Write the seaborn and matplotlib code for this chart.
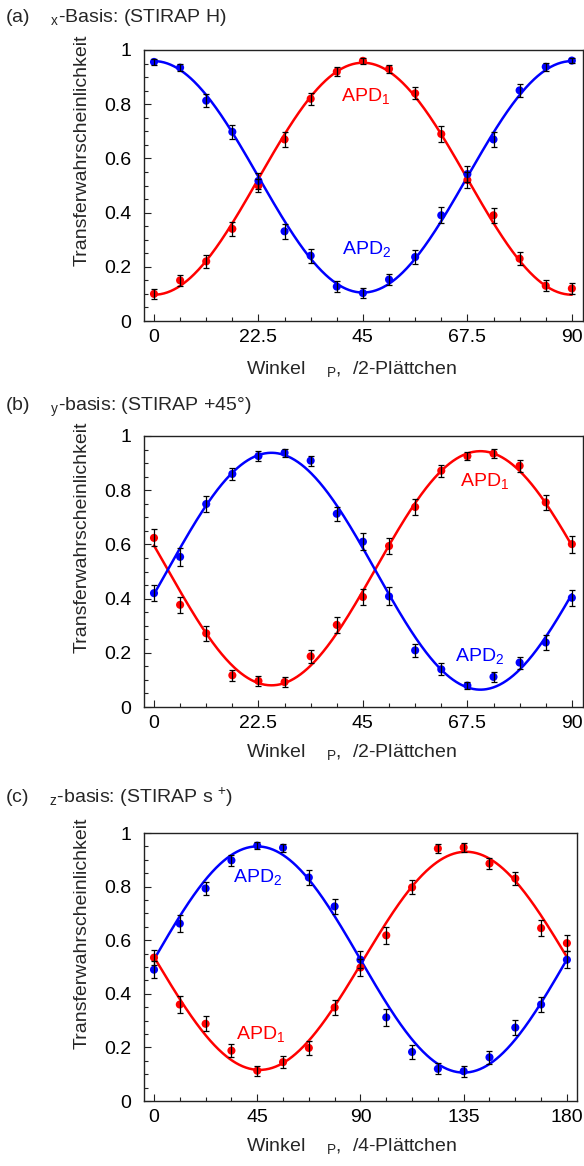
import numpy as np
import pandas as pd
import matplotlib
matplotlib.use("Agg")
import matplotlib.pyplot as plt
from matplotlib.ticker import MultipleLocator
import seaborn as sns

# ---- measured transfer probabilities -------------------------------------
ANGLE_HALF = [0, 5.625, 11.25, 16.875, 22.5, 28.125, 33.75, 39.375, 45,
              50.625, 56.25, 61.875, 67.5, 73.125, 78.75, 84.375, 90]
ANGLE_QUARTER = [0, 11.25, 22.5, 33.75, 45, 56.25, 67.5, 78.75, 90,
                 101.25, 112.5, 123.75, 135, 146.25, 157.5, 168.75, 180]

# (a) x-basis
A_APD1 = [0.10, 0.15, 0.22, 0.34, 0.50, 0.67, 0.82, 0.92, 0.96,
          0.93, 0.84, 0.69, 0.52, 0.39, 0.23, 0.13, 0.12]
A_APD1_ERR = [0.018, 0.020, 0.024, 0.026, 0.023, 0.027, 0.022, 0.017, 0.011,
              0.015, 0.022, 0.028, 0.030, 0.028, 0.025, 0.020, 0.020]
A_APD2 = [0.956, 0.935, 0.813, 0.698, 0.517, 0.331, 0.241, 0.127, 0.103,
          0.153, 0.236, 0.390, 0.542, 0.670, 0.851, 0.938, 0.961]
A_APD2_ERR = [0.011, 0.014, 0.024, 0.026, 0.030, 0.028, 0.026, 0.021, 0.018,
              0.022, 0.026, 0.030, 0.029, 0.029, 0.023, 0.014, 0.010]

# (b) y-basis
B_APD1 = [0.624, 0.377, 0.272, 0.117, 0.096, 0.092, 0.187, 0.303, 0.406,
          0.594, 0.738, 0.872, 0.926, 0.935, 0.890, 0.755, 0.601]
B_APD1_ERR = [0.031, 0.029, 0.027, 0.021, 0.019, 0.018, 0.025, 0.030, 0.028,
              0.031, 0.030, 0.022, 0.015, 0.017, 0.022, 0.029, 0.031]
B_APD2 = [0.420, 0.554, 0.749, 0.860, 0.926, 0.938, 0.909, 0.713, 0.610,
          0.408, 0.209, 0.139, 0.079, 0.111, 0.164, 0.238, 0.403]
B_APD2_ERR = [0.030, 0.032, 0.028, 0.022, 0.017, 0.015, 0.019, 0.026, 0.031,
              0.033, 0.025, 0.022, 0.014, 0.019, 0.022, 0.026, 0.030]

# (c) z-basis
C_APD1 = [0.535, 0.360, 0.288, 0.188, 0.113, 0.145, 0.198, 0.349, 0.498,
          0.618, 0.797, 0.942, 0.946, 0.886, 0.830, 0.645, 0.589]
C_APD1_ERR = [0.028, 0.030, 0.028, 0.023, 0.018, 0.023, 0.026, 0.029, 0.030,
              0.031, 0.026, 0.016, 0.016, 0.022, 0.024, 0.030, 0.031]
C_APD2 = [0.490, 0.662, 0.793, 0.898, 0.953, 0.945, 0.834, 0.726, 0.527,
          0.312, 0.183, 0.120, 0.111, 0.163, 0.274, 0.360, 0.527]
C_APD2_ERR = [0.031, 0.031, 0.026, 0.020, 0.013, 0.015, 0.027, 0.029, 0.031,
              0.031, 0.026, 0.021, 0.021, 0.025, 0.027, 0.028, 0.031]

# sinusoidal fits: (offset, amplitude, angle of maximum in degrees)
A_FIT1 = (0.525, 0.428, 45.0)
A_FIT2 = (0.532, 0.427, 0.0)
B_FIT1 = (0.512, 0.432, 70.3)
B_FIT2 = (0.501, 0.437, 25.3)
C_FIT1 = (0.523, 0.407, 136.0)
C_FIT2 = (0.528, 0.422, 45.0)

Y_TICKS = [0, 0.2, 0.4, 0.6, 0.8, 1]
Y_TICK_LABELS = ["0", "0.2", "0.4", "0.6", "0.8", "1"]
X_TICKS_HALF = [0, 22.5, 45, 67.5, 90]
X_TICK_LABELS_HALF = ["0", "22.5", "45", "67.5", "90"]
X_TICKS_QUARTER = [0, 45, 90, 135, 180]
X_TICK_LABELS_QUARTER = ["0", "45", "90", "135", "180"]

RED = "#ff0000"
BLUE = "#0000ff"

sns.set_theme(style="ticks")
plt.rcParams["font.family"] = ["Liberation Sans", "DejaVu Sans"]
plt.rcParams["mathtext.fontset"] = "custom"
plt.rcParams["mathtext.rm"] = "Liberation Sans"
plt.rcParams["mathtext.it"] = "Liberation Sans"
plt.rcParams["mathtext.default"] = "regular"

W, H = 584, 1166
fig = plt.figure(figsize=(W / 100, H / 100), dpi=100)


def box(left, top, right, bottom):
    return [left / W, 1 - bottom / H, (right - left) / W, (bottom - top) / H]


def fit_curve(params, period, x_max):
    off, amp, xmax = params
    x = np.linspace(0, x_max, 500)
    y = off + amp * np.cos(2 * np.pi * (x - xmax) / period)
    return pd.DataFrame({"x": x, "y": y})


def panel(rect, xs, d1, e1, d2, e2, f1, f2, period, x_max, xlim,
          xticks, xticklabels, xminor, lab1, lab2):
    ax = fig.add_axes(rect)
    for params, col in ((f1, RED), (f2, BLUE)):
        sns.lineplot(data=fit_curve(params, period, x_max), x="x", y="y",
                     ax=ax, color=col, lw=1.8, zorder=2, legend=False)
    for d, e, col in ((d1, e1, RED), (d2, e2, BLUE)):
        df = pd.DataFrame({"x": xs, "y": d})
        sns.scatterplot(data=df, x="x", y="y", ax=ax, color=col, s=34,
                        edgecolor="none", zorder=3, legend=False)
        ax.errorbar(xs, d, yerr=e, fmt="none", ecolor="black", elinewidth=0.9,
                    capsize=2.5, capthick=0.9, zorder=4)
    ax.set_xlim(*xlim)
    ax.set_ylim(0, 1)
    ax.set_xticks(xticks)
    ax.set_xticklabels(xticklabels)
    ax.set_yticks(Y_TICKS)
    ax.set_yticklabels(Y_TICK_LABELS)
    ax.xaxis.set_minor_locator(MultipleLocator(xminor))
    ax.yaxis.set_minor_locator(MultipleLocator(0.05))
    ax.tick_params(axis="both", which="both", direction="in", top=False,
                   right=False, colors="#222222", labelcolor="black",
                   labelsize=14)
    ax.tick_params(axis="both", which="major", length=5, width=0.8)
    ax.tick_params(axis="both", which="minor", length=3, width=0.8)
    ax.tick_params(axis="x", pad=6)
    ax.tick_params(axis="y", pad=9)
    for sp in ax.spines.values():
        sp.set_visible(True)
        sp.set_color("#222222")
        sp.set_linewidth(1.0)
    ax.set_xlabel("")
    ax.set_ylabel("")
    for (tx, ty, txt, col) in (lab1 + (RED,), lab2 + (BLUE,)):
        ax.text(tx, ty, txt, color=col, fontsize=14, ha="center", va="center")
    return ax


panel(box(144, 50, 583, 321), ANGLE_HALF, A_APD1, A_APD1_ERR, A_APD2, A_APD2_ERR,
      A_FIT1, A_FIT2, 90, 90, (-2.15, 92.4), X_TICKS_HALF, X_TICK_LABELS_HALF,
      5.625, (45.5, 0.83, "APD$_1$"), (45.8, 0.265, "APD$_2$"))
panel(box(144, 436, 583, 707), ANGLE_HALF, B_APD1, B_APD1_ERR, B_APD2, B_APD2_ERR,
      B_FIT1, B_FIT2, 90, 90, (-2.15, 92.4), X_TICKS_HALF, X_TICK_LABELS_HALF,
      5.625, (71.3, 0.835, "APD$_1$"), (70.2, 0.19, "APD$_2$"))
panel(box(144, 833, 577, 1101), ANGLE_QUARTER, C_APD1, C_APD1_ERR, C_APD2, C_APD2_ERR,
      C_FIT1, C_FIT2, 180, 180, (-4.36, 184.4), X_TICKS_QUARTER,
      X_TICK_LABELS_QUARTER, 11.25,
      (46.5, 0.25, "APD$_1$"), (45.1, 0.835, "APD$_2$"))

# panel headings
TITLES = ["(a)    $_{x}$-Basis: (STIRAP H)",
          "(b)    $_{y}$-basis: (STIRAP +45°)",
          "(c)    $_{z}$-basis: (STIRAP s $^{+}$)"]
TITLE_Y = [18, 407, 797]
XLABELS = ["Winkel    $_{P}$,  /2-Plättchen",
           "Winkel    $_{P}$,  /2-Plättchen",
           "Winkel    $_{P}$,  /4-Plättchen"]
XLABEL_Y = [369, 752, 1146]
YLABEL_Y = [150, 537, 933]

for t, ty in zip(TITLES, TITLE_Y):
    fig.text(5 / W, 1 - ty / H, t, fontsize=14, ha="left", va="center")
for t, ty in zip(XLABELS, XLABEL_Y):
    fig.text(352 / W, 1 - ty / H, t, fontsize=14, ha="center", va="center")
for ty in YLABEL_Y:
    fig.text(82 / W, 1 - ty / H, "Transferwahrscheinlichkeit", fontsize=14,
             rotation=90, ha="center", va="center")

fig.savefig("out.png", dpi=100, facecolor="white")
